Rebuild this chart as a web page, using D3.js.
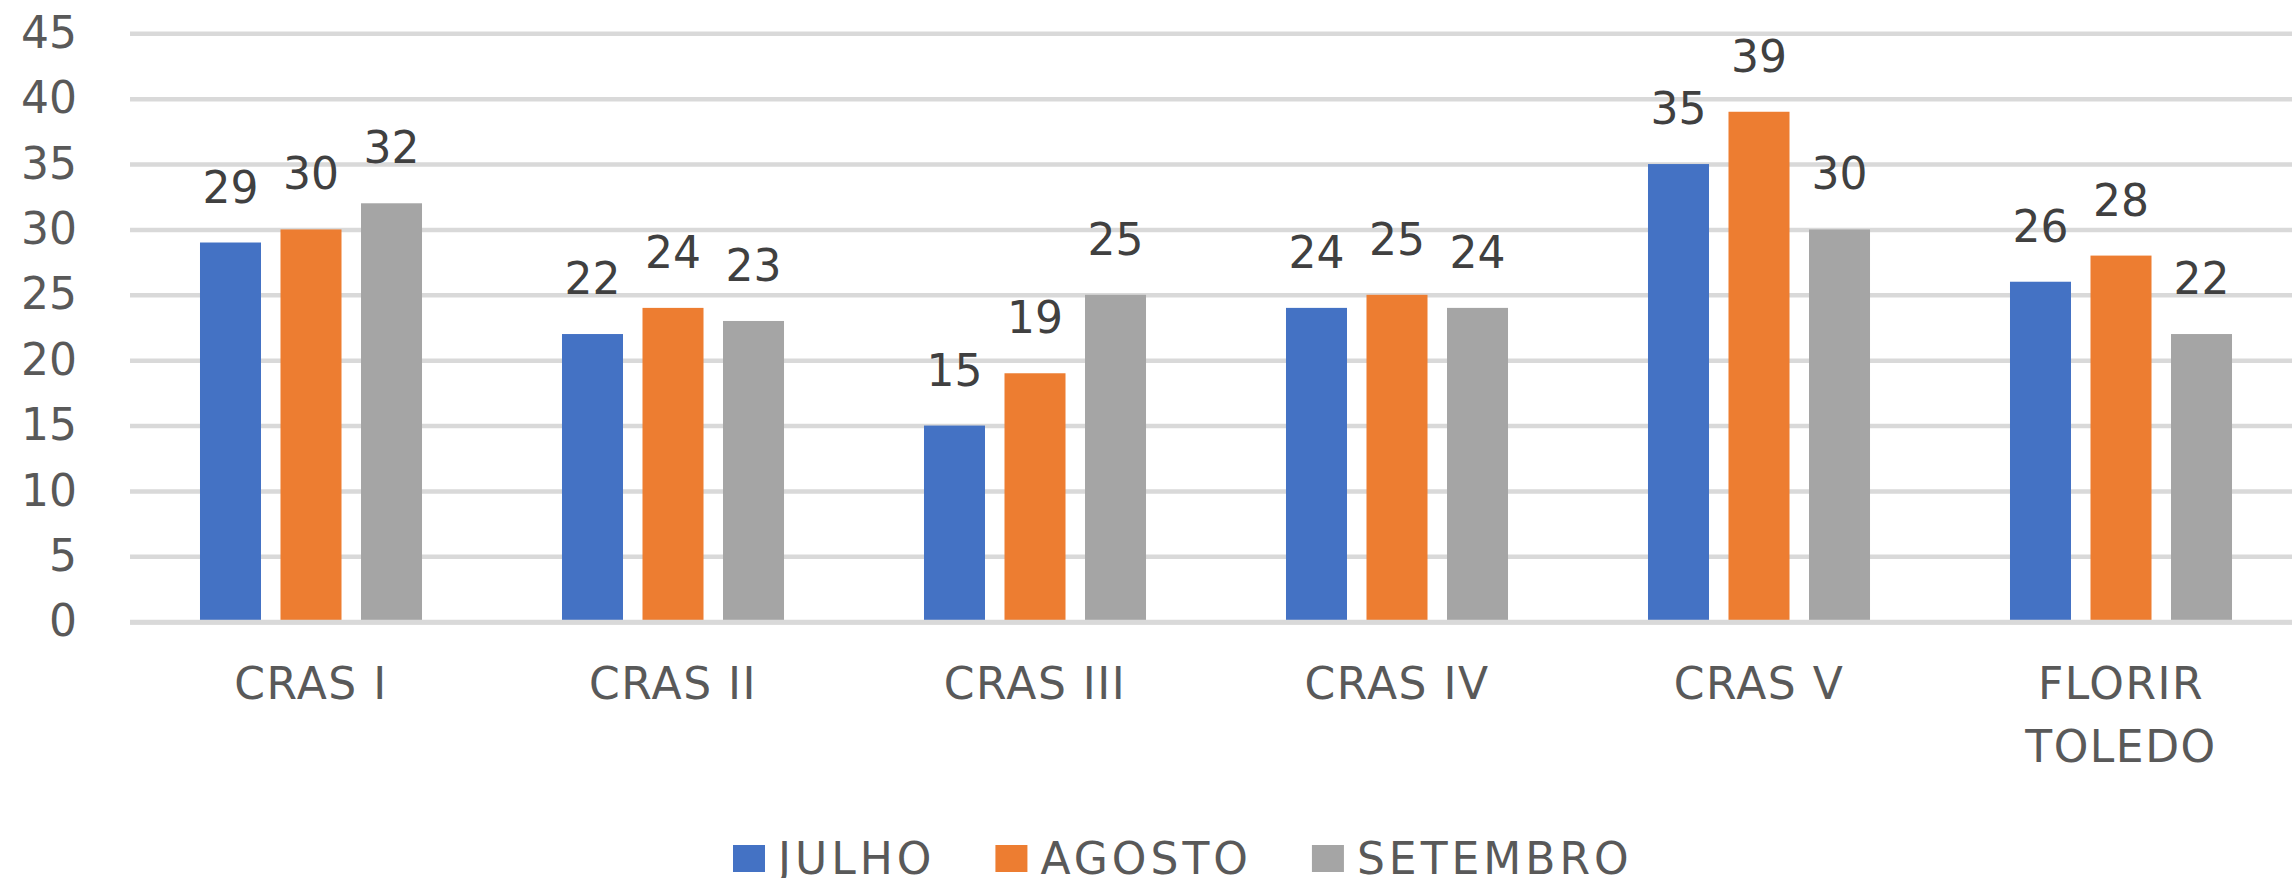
<!DOCTYPE html>
<html>
<head>
<meta charset="utf-8">
<script src="https://cdn.jsdelivr.net/npm/d3@7"></script>
<style>
  body { margin: 0; background: #fff; }
  svg { display: block; font-family: "DejaVu Sans", sans-serif; }
</style>
</head>
<body>
<div id="chart"></div>
<script>
var categories = ["CRAS I", "CRAS II", "CRAS III", "CRAS IV", "CRAS V", "FLORIR TOLEDO"];
var seriesNames = ["JULHO", "AGOSTO", "SETEMBRO"];
var julho = [29, 22, 15, 24, 35, 26];
var agosto = [30, 24, 19, 25, 39, 28];
var setembro = [32, 23, 25, 24, 30, 22];
var yTicks = [0, 5, 10, 15, 20, 25, 30, 35, 40, 45];
var colors = ["#4472C4", "#ED7D31", "#A5A5A5"];

var seriesValues = [julho, agosto, setembro];
var width = 2292, height = 878;
var plotLeft = 130, plotRight = 2302;

var svg = d3.select("#chart").append("svg")
    .attr("width", width)
    .attr("height", height);

var y = d3.scaleLinear().domain([0, 45]).range([621.7, 33.3]);

var x0 = d3.scaleBand()
    .domain(categories)
    .range([plotLeft, plotRight])
    .paddingInner(0.3867)
    .paddingOuter(0.3867 / 2);

var x1 = d3.scaleBand()
    .domain(seriesNames)
    .range([0, x0.bandwidth()])
    .paddingInner(0.2422)
    .paddingOuter(0);

// gridlines + y labels
var yaxis = d3.axisLeft(y)
    .tickValues(yTicks)
    .tickSize(-(width - plotLeft))
    .tickPadding(53);

var gy = svg.append("g")
    .attr("transform", "translate(" + plotLeft + ",0)")
    .call(yaxis);
gy.select(".domain").remove();
gy.selectAll(".tick line")
    .attr("stroke", "#d9d9d9")
    .attr("stroke-width", 4.5);
gy.selectAll(".tick text")
    .attr("fill", "#595959")
    .style("font-size", "44px")
    .style("font-family", "DejaVu Sans")
    .attr("dy", "0.32em");

// bars
var groups = svg.selectAll("g.cat")
    .data(categories)
    .enter().append("g")
    .attr("class", "cat")
    .attr("transform", function (d) { return "translate(" + x0(d) + ",0)"; });

groups.selectAll("rect")
    .data(function (d, i) {
        return seriesNames.map(function (s, j) { return {s: s, v: seriesValues[j][i], j: j}; });
    })
    .enter().append("rect")
    .attr("x", function (d) { return x1(d.s); })
    .attr("y", function (d) { return y(d.v); })
    .attr("width", x1.bandwidth())
    .attr("height", function (d) { return y(0) - y(d.v); })
    .attr("fill", function (d) { return colors[d.j]; });

groups.selectAll("text.val")
    .data(function (d, i) {
        return seriesNames.map(function (s, j) { return {s: s, v: seriesValues[j][i]}; });
    })
    .enter().append("text")
    .attr("class", "val")
    .attr("x", function (d) { return x1(d.s) + x1.bandwidth() / 2; })
    .attr("y", function (d) { return y(d.v) - 40; })
    .attr("text-anchor", "middle")
    .attr("fill", "#404040")
    .style("font-size", "44px")
    .text(function (d) { return d.v; });

// zero line on top
svg.append("line")
    .attr("x1", plotLeft).attr("x2", width)
    .attr("y1", y(0) + 0.5).attr("y2", y(0) + 0.5)
    .attr("stroke", "#d9d9d9")
    .attr("stroke-width", 5);

// x axis labels
var xaxis = d3.axisBottom(x0).tickSize(0).tickPadding(0);
var gx = svg.append("g")
    .attr("transform", "translate(0," + y(0) + ")")
    .call(xaxis);
gx.select(".domain").remove();
gx.selectAll(".tick text")
    .attr("fill", "#595959")
    .style("font-size", "44px")
    .style("font-family", "DejaVu Sans")
    .style("letter-spacing", "1.5px")
    .attr("y", 0)
    .attr("dy", null)
    .each(function (d) {
        var t = d3.select(this);
        var words = d.split(" ");
        t.text(null);
        var lines = d.indexOf("FLORIR") === 0 ? words : [d];
        lines.forEach(function (w, i) {
            t.append("tspan").attr("x", 0).attr("y", 77 + i * 63).text(w);
        });
    });

// legend
var legend = svg.append("g").attr("class", "legend");
var lx = 733;
seriesNames.forEach(function (s, i) {
    legend.append("rect")
        .attr("x", lx).attr("y", 845)
        .attr("width", 32).attr("height", 27)
        .attr("fill", colors[i]);
    var t = legend.append("text")
        .attr("x", lx + 45).attr("y", 874)
        .attr("fill", "#595959")
        .style("font-size", "44px")
        .style("letter-spacing", "4px")
        .text(s);
    var w = t.node().getComputedTextLength();
    lx += 45 + w + 60;
});
</script>
</body>
</html>
